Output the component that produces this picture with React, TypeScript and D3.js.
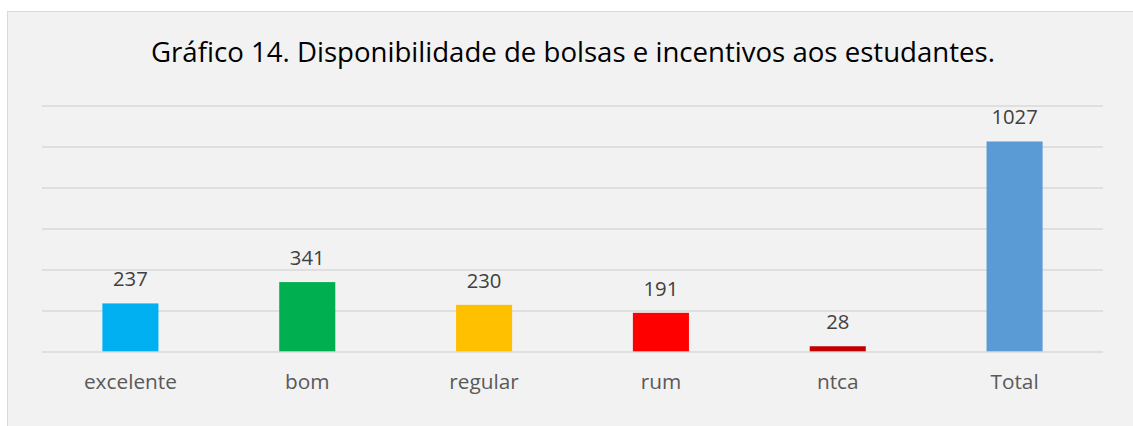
import * as d3 from 'd3'
import { useEffect, useRef } from 'react'

const categories = ['excelente', 'bom', 'regular', 'rum', 'ntca', 'Total']
const values = [237, 341, 230, 191, 28, 1027]
const barColors = ['#00B0F0', '#00B050', '#FFC000', '#FF0000', '#C00000', '#5B9BD5']
const gridTicks = [0, 200, 400, 600, 800, 1000, 1200]
const title = 'Gráfico 14. Disponibilidade de bolsas e incentivos aos estudantes.'

const W = 1133
const H = 426
const FONT = '"Open Sans", "Noto Sans", sans-serif'

export default function App() {
  const ref = useRef<SVGSVGElement | null>(null)

  useEffect(() => {
    const svgEl = ref.current
    if (!svgEl) return
    const svg = d3.select(svgEl)
    svg.selectAll('*').remove()

    // chart frame
    svg.append('rect').attr('width', W).attr('height', H).attr('fill', '#ffffff')
    svg
      .append('rect')
      .attr('x', 7.5)
      .attr('y', 11.5)
      .attr('width', W + 10)
      .attr('height', H + 10)
      .attr('fill', '#f2f2f2')
      .attr('stroke', '#d9d9d9')
      .attr('stroke-width', 1)

    svg
      .append('text')
      .attr('x', 573)
      .attr('y', 62)
      .attr('text-anchor', 'middle')
      .attr('font-family', FONT)
      .attr('font-size', 27.6)
      .attr('fill', '#000000')
      .text(title)

    const x = d3.scaleBand<string>().domain(categories).range([42, 1103]).paddingInner(0.683).paddingOuter(0.3415)
    const y = d3.scaleLinear().domain([0, 1200]).range([352, 106])

    const grid = svg.append('g')
    for (const t of gridTicks) {
      grid
        .append('line')
        .attr('x1', 42)
        .attr('x2', 1103)
        .attr('y1', y(t))
        .attr('y2', y(t))
        .attr('stroke', '#d9d9d9')
        .attr('stroke-width', 1.3)
    }

    const bars = svg.append('g')
    categories.forEach((c, i) => {
      const v = values[i]
      bars
        .append('rect')
        .attr('x', x(c)!)
        .attr('y', y(v))
        .attr('width', x.bandwidth())
        .attr('height', y(0) - y(v) - 0.7)
        .attr('fill', barColors[i])
      bars
        .append('text')
        .attr('x', x(c)! + x.bandwidth() / 2)
        .attr('y', y(v) - 17)
        .attr('text-anchor', 'middle')
        .attr('font-family', FONT)
        .attr('font-size', 20.3)
        .attr('fill', '#404040')
        .text(v)
      bars
        .append('text')
        .attr('x', x(c)! + x.bandwidth() / 2)
        .attr('y', 389)
        .attr('text-anchor', 'middle')
        .attr('font-family', FONT)
        .attr('font-size', 20.8)
        .attr('fill', '#595959')
        .text(c)
    })
  }, [])

  return (
    <div style={{ position: 'fixed', left: 0, top: 0 }}>
      <svg ref={ref} width={W} height={H} style={{ display: 'block' }} />
    </div>
  )
}
